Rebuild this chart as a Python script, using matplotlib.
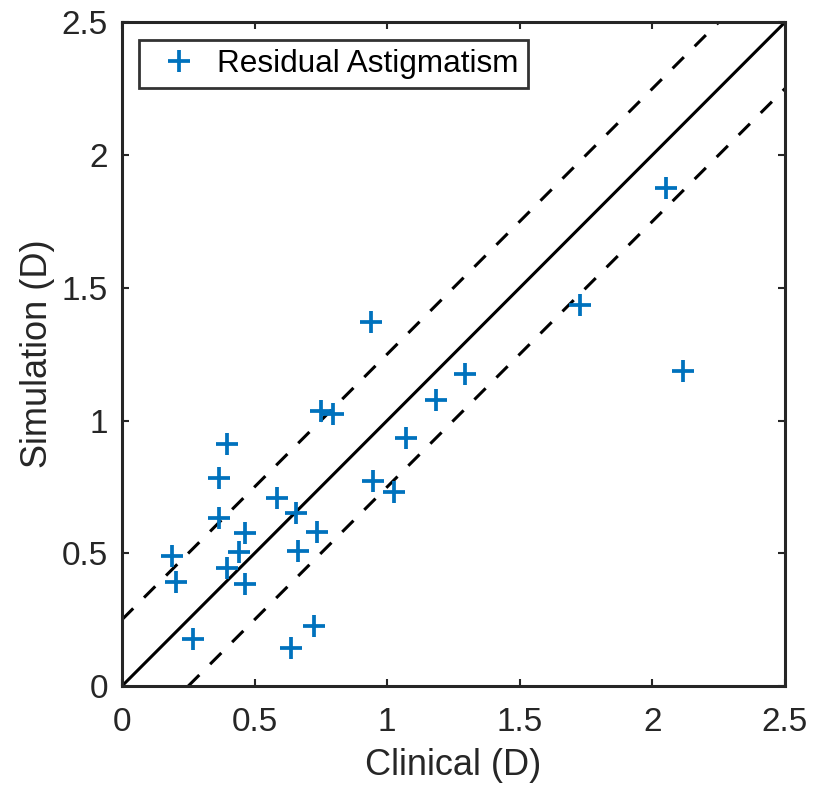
import matplotlib
matplotlib.use("Agg")
import matplotlib.pyplot as plt
import numpy as np

# donnees (dioptries)
clinique = [0.189, 0.204, 0.269, 0.396, 0.367, 0.367, 0.395, 0.464, 0.442, 0.464,
            0.583, 0.655, 0.662, 0.737, 0.725, 0.636, 0.749, 0.794, 1.070, 0.945,
            1.027, 0.939, 1.184, 1.293, 1.727, 2.051, 2.117]
simulation = [0.489, 0.392, 0.176, 0.911, 0.783, 0.634, 0.444, 0.577, 0.506, 0.384,
              0.707, 0.650, 0.509, 0.581, 0.226, 0.142, 1.037, 1.023, 0.935, 0.773,
              0.729, 1.370, 1.077, 1.175, 1.434, 1.875, 1.187]
TOL = 0.25
TICKS = [0, 0.5, 1, 1.5, 2, 2.5]
TICK_LABELS = ["0", "0.5", "1", "1.5", "2", "2.5"]

BLEU = "#0072BD"
GRIS = "#262626"
plt.rcParams["font.family"] = ["Liberation Sans", "DejaVu Sans"]

fig = plt.figure(figsize=(8.16, 7.94), dpi=100)
ax = fig.add_axes([0.1495, 0.136, 0.8125, 0.836])

ax.plot(clinique, simulation, "+", color=BLEU, ms=16, mew=2.7, ls="none",
        label="Residual Astigmatism", zorder=3)
lim = np.array([0, 2.5])
ax.plot(lim, lim, color="black", lw=2.2)
ax.plot(lim, lim + TOL, color="black", lw=2.2, ls=(0, (5.2, 5)))
ax.plot(lim, lim - TOL, color="black", lw=2.2, ls=(0, (5.2, 5)))

ax.set_xlim(0, 2.5)
ax.set_ylim(0, 2.5)
ax.set_xticks(TICKS)
ax.set_xticklabels(TICK_LABELS)
ax.set_yticks(TICKS)
ax.set_yticklabels(TICK_LABELS)
ax.tick_params(direction="in", length=5, width=1.5, top=True, right=True,
               labelsize=24, colors=GRIS)
ax.tick_params(axis="x", pad=15)
ax.tick_params(axis="y", pad=10)
ax.set_xlabel("Clinical (D)", fontsize=26, color=GRIS, labelpad=7)
ax.set_ylabel("Simulation (D)", fontsize=26, color=GRIS, labelpad=5)
for s in ax.spines.values():
    s.set_linewidth(2.2)
    s.set_color(GRIS)

leg = ax.legend(loc="upper left", fontsize=22.7, frameon=True, fancybox=False,
                borderaxespad=0.55, borderpad=0.3, handlelength=1.9,
                handletextpad=0.25)
leg.get_frame().set_edgecolor("black")
leg.get_frame().set_linewidth(2.0)

fig.savefig("out.png", dpi=100)
